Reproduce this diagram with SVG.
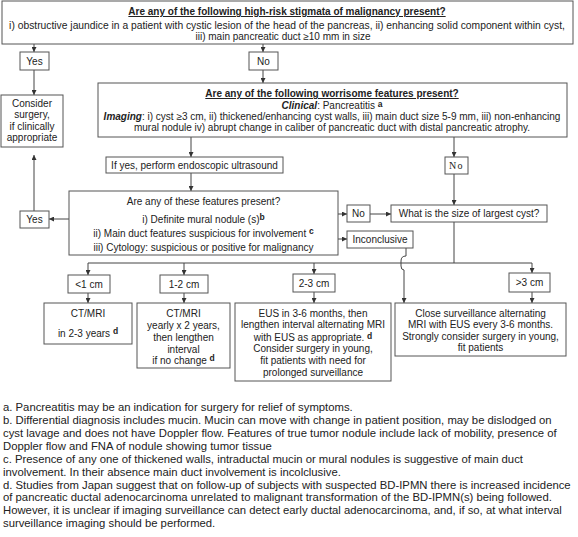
<svg xmlns="http://www.w3.org/2000/svg" width="578" height="537" viewBox="0 0 578 537">
<defs>
<marker id="ah" viewBox="0 0 8 8" refX="8" refY="4" markerWidth="5" markerHeight="5" orient="auto" markerUnits="userSpaceOnUse">
<path d="M0,0 L8,4 L0,8 z" fill="#333"/>
</marker>
<style>
.box{fill:#fff;stroke:#555;stroke-width:1}
.t{font-family:"Liberation Sans",Arial,sans-serif;font-size:10px;fill:#222;text-anchor:middle}
.fn{font-family:"Liberation Sans",Arial,sans-serif;font-size:11.3px;fill:#222}
.b{font-weight:bold}
.u{text-decoration:underline}
.sup{font-weight:bold;font-size:8.5px}
.c{fill:none;stroke:#444;stroke-width:1}
.ca{fill:none;stroke:#444;stroke-width:1;marker-end:url(#ah)}
</style>
</defs>
<rect width="578" height="537" fill="#fff"/>

<g id="connectors">
<path class="ca" d="M34,44 V52"/>
<path class="ca" d="M263,44 V52"/>
<path class="ca" d="M34,70 V95"/>
<path class="ca" d="M263,70 V83"/>
<path class="ca" d="M191,137 V157"/>
<path class="ca" d="M454,137 V157"/>
<path class="ca" d="M191,173 V191"/>
<path class="ca" d="M454,174 V205"/>
<path class="ca" d="M69,219 H49"/>
<path class="ca" d="M34,211 V155"/>
<path class="ca" d="M338,214 H347"/>
<path class="ca" d="M370,214 H391"/>
<path class="ca" d="M338,239 H347"/>
<path class="c" d="M454,222 V263 M88,263 H532"/>
<path class="ca" d="M88,263 V275"/>
<path class="ca" d="M184,263 V275"/>
<path class="ca" d="M314,263 V274"/>
<path class="ca" d="M532,263 V273"/>
<path class="ca" d="M88,293 V303"/>
<path class="ca" d="M184,293 V303"/>
<path class="ca" d="M314,292 V303"/>
<path class="ca" d="M532,292 V303"/>
<path class="ca" d="M406,248 V256 Q401,256 401,261 V266 Q401,270 404,270 V303"/>
</g>

<g id="n-highrisk">
<rect class="box" x="2" y="1" width="571" height="43"/>
<text class="t b u" x="287" y="15">Are any of the following high-risk stigmata of malignancy present?</text>
<text class="t" x="287" y="29" style="font-size:10.3px">i) obstructive jaundice in a patient with cystic lesion of the head of the pancreas, ii) enhancing solid component within cyst,</text>
<text class="t" x="283" y="40">iii) main pancreatic duct ≥10 mm in size</text>
</g>

<g id="n-yes1">
<rect class="box" x="20" y="52" width="29" height="18"/>
<text class="t" x="34.5" y="64.5">Yes</text>
</g>

<g id="n-no1">
<rect class="box" x="249" y="52" width="29" height="18"/>
<text class="t" x="263.5" y="64.5">No</text>
</g>

<g id="n-consider">
<rect class="box" x="1" y="95" width="62" height="52"/>
<text class="t" x="32" y="107">Consider</text>
<text class="t" x="32" y="118">surgery,</text>
<text class="t" x="32" y="130">if clinically</text>
<text class="t" x="32" y="141">appropriate</text>
</g>

<g id="n-worrisome">
<rect class="box" x="98" y="83" width="469" height="54"/>
<text class="t b u" x="332" y="97">Are any of the following worrisome features present?</text>
<text class="t" x="332" y="108.5"><tspan class="b" font-style="italic">Clinical</tspan>: Pancreatitis <tspan class="sup" dy="-2">a</tspan></text>
<text class="t" x="332" y="119.5"><tspan class="b" font-style="italic">Imaging</tspan>: i) cyst ≥3 cm, ii) thickened/enhancing cyst walls, iii) main duct size 5-9 mm, iii) non-enhancing</text>
<text class="t" x="332" y="131">mural nodule iv) abrupt change in caliber of pancreatic duct with distal pancreatic atrophy.</text>
</g>

<g id="n-ifyes">
<rect class="box" x="106" y="157" width="177" height="16"/>
<text class="t" x="194.5" y="168.5">If yes, perform endoscopic ultrasound</text>
</g>

<g id="n-no2">
<rect class="box" x="445" y="157" width="23" height="17"/>
<text class="t" x="456.5" y="169" style="font-family:'Liberation Serif',serif" letter-spacing="1.5">No</text>
</g>

<g id="n-features">
<rect class="box" x="69" y="191" width="269" height="64"/>
<text class="t" x="203.5" y="204.5">Are any of these features present?</text>
<text class="t" x="203.5" y="222.5">i) Definite mural nodule (s)<tspan class="sup" dy="-3">b</tspan></text>
<text class="t" x="203.5" y="236.5">ii) Main duct features suspicious for involvement <tspan class="sup" dy="-3">c</tspan></text>
<text class="t" x="203.5" y="251">iii) Cytology: suspicious or positive for malignancy</text>
</g>

<g id="n-yes2">
<rect class="box" x="20" y="211" width="29" height="17"/>
<text class="t" x="34.5" y="223">Yes</text>
</g>

<g id="n-no3">
<rect class="box" x="347" y="205" width="23" height="17"/>
<text class="t" x="358.5" y="217">No</text>
</g>

<g id="n-size">
<rect class="box" x="391" y="205" width="156" height="17"/>
<text class="t" x="469" y="217">What is the size of largest cyst?</text>
</g>

<g id="n-inconclusive">
<rect class="box" x="347" y="231" width="66" height="17"/>
<text class="t" x="380" y="243">Inconclusive</text>
</g>

<g id="n-lt1">
<rect class="box" x="68" y="275" width="42" height="18"/>
<text class="t" x="89" y="287.5">&lt;1 cm</text>
</g>

<g id="n-1to2">
<rect class="box" x="160" y="275" width="48" height="18"/>
<text class="t" x="184" y="287.5">1-2 cm</text>
</g>

<g id="n-2to3">
<rect class="box" x="293" y="274" width="42" height="18"/>
<text class="t" x="314" y="286.5">2-3 cm</text>
</g>

<g id="n-gt3">
<rect class="box" x="509" y="273" width="41" height="19"/>
<text class="t" x="529.5" y="286">&gt;3 cm</text>
</g>

<g id="n-ct1">
<rect class="box" x="44" y="303" width="88" height="41"/>
<text class="t" x="88" y="316.5">CT/MRI</text>
<text class="t" x="88" y="336.5">in 2-3 years <tspan class="sup" dy="-3">d</tspan></text>
</g>

<g id="n-ct2">
<rect class="box" x="137" y="303" width="93" height="65"/>
<text class="t" x="183.5" y="316.5">CT/MRI</text>
<text class="t" x="183.5" y="328.5">yearly x 2 years,</text>
<text class="t" x="183.5" y="340.5">then lengthen</text>
<text class="t" x="183.5" y="352.5">interval</text>
<text class="t" x="183.5" y="363.5">if no change <tspan class="sup" dy="-3">d</tspan></text>
</g>

<g id="n-eus">
<rect class="box" x="235" y="303" width="156" height="78"/>
<text class="t" x="313" y="316.5">EUS in 3-6 months, then</text>
<text class="t" x="313" y="328">lengthen interval alternating MRI</text>
<text class="t" x="313" y="340.5">with EUS as appropriate. <tspan class="sup" dy="-2">d</tspan></text>
<text class="t" x="313" y="352">Consider surgery in young,</text>
<text class="t" x="313" y="364">fit patients with need for</text>
<text class="t" x="313" y="375.5">prolonged surveillance</text>
</g>

<g id="n-close">
<rect class="box" x="395" y="303" width="171" height="53"/>
<text class="t" x="480.5" y="316.5">Close surveillance alternating</text>
<text class="t" x="480.5" y="328">MRI with EUS every 3-6 months.</text>
<text class="t" x="480.5" y="339.5">Strongly consider surgery in young,</text>
<text class="t" x="480.5" y="351">fit patients</text>
</g>

<g id="footnotes">
<text class="fn" x="3" y="411">a. Pancreatitis may be an indication for surgery for relief of symptoms.</text>
<text class="fn" x="3" y="424">b. Differential diagnosis includes mucin. Mucin can move with change in patient position, may be dislodged on</text>
<text class="fn" x="3" y="436.9">cyst lavage and does not have Doppler flow. Features of true tumor nodule include lack of mobility, presence of</text>
<text class="fn" x="3" y="449.8">Doppler flow and FNA of nodule showing tumor tissue</text>
<text class="fn" x="3" y="462.7">c. Presence of any one of thickened walls, intraductal mucin or mural nodules is suggestive of main duct</text>
<text class="fn" x="3" y="475.6">involvement. In their absence main duct involvement is incolclusive.</text>
<text class="fn" x="3" y="488.5">d. Studies from Japan suggest that on follow-up of subjects with suspected BD-IPMN there is increased incidence</text>
<text class="fn" x="3" y="501.4">of pancreatic ductal adenocarcinoma unrelated to malignant transformation of the BD-IPMN(s) being followed.</text>
<text class="fn" x="3" y="514.3">However, it is unclear if imaging surveillance can detect early ductal adenocarcinoma, and, if so, at what interval</text>
<text class="fn" x="3" y="527.2">surveillance imaging should be performed.</text>
</g>
</svg>
